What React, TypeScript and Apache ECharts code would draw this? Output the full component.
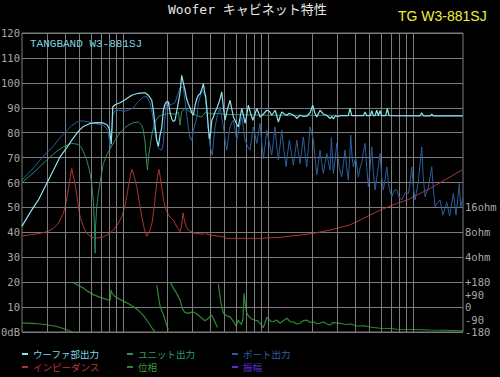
import React, { useEffect, useRef } from 'react';
import * as echarts from 'echarts';

// Frequencies (Hz) of the vertical grid lines and the labelled ones
const GRID_FREQS = [30, 40, 50, 60, 70, 80, 90, 100, 200, 300, 400, 500, 600, 700, 800, 900, 1000, 2000, 3000, 4000, 5000, 6000, 7000, 8000, 9000, 10000];
const FREQ_LABELS: [number, string][] = [[20, '20Hz'], [50, '50'], [100, '100'], [500, '500'], [1000, '1K'], [5000, '5K'], [10000, '10K'], [20000, '20K']];
// Right-hand scale labels (chart unit -> text)
const RIGHT_LABELS: Record<number, string> = { 50: '16ohm', 40: '8ohm', 30: '4ohm', 20: '+180', 15: '+90', 10: '0', 5: '-90', 0: '-180' };

const LEGEND_NAMES = ['ウーファ部出力', 'ユニット出力', 'ポート出力', 'インピーダンス', '位相', '振幅'];

// [Hz, dB]
const WOOFER_OUT: [number, number][] = [[20,42.5],[23.3,48.9],[25.9,52.9],[29.6,59.6],[33,65],[36.6,70.3],[40.7,74],[44.1,77],[48.9,80.5],[53,82.5],[58.9,83.7],[65.5,84],[72.8,83.9],[77.6,83],[80.1,81.5],[81.5,78],[82.5,75.5],[83.6,83],[84.5,90.3],[87.7,91.2],[94.9,92],[102.7,93.2],[114.3,95],[126.9,95.8],[137.4,96],[141,96],[148.8,95],[157,93],[161,89],[166,82],[170,77],[174.4,74.5],[179,79],[184,82],[188.7,89],[193.9,91.5],[199,92.5],[204.4,92.3],[210,88],[215.7,85.5],[221,84.5],[227.3,85],[236,90],[246,96],[252.7,103],[259.2,100],[266.3,97],[273.6,93.5],[280.7,91.5],[288.4,90],[296.3,88],[304,87],[312.3,91],[320.8,93.5],[329,95],[338,95.5],[350.6,98],[356.2,99.7],[362,97],[370,94.3],[376,90.3],[385.7,82],[392,77.5],[400,80],[407.2,85],[417.7,86.3],[429,88.3],[445,90.3],[464.5,93.5],[477.2,96.4],[490,90],[502.9,85],[520,89],[544.4,93],[574,86.3],[605,83.5],[621,82.3],[638,86],[655.5,89.7],[672,87],[690.6,83.7],[709.5,87],[727.8,91],[752,88],[780.5,85],[805,87],[832,89.7],[855,88],[876.5,86.3],[925,87.5],[975,89],[1020,88.5],[1055,87],[1085,88],[1112,89],[1140,87],[1172,84.3],[1205,86.5],[1237,88.3],[1290,87.5],[1340,87],[1395,87.8],[1450,87.4],[1510,86.8],[1570,85.7],[1654,87],[1745,86.5],[1840,86.6],[1939,88],[2024,91],[2090,88],[2157,86.3],[2273,89],[2395,87.5],[2528,87],[2663,85.7],[2750,86.5],[2807,85.5],[2900,86.8],[3000,86.4],[3122,86.8],[3560,86.8],[3660,89.7],[3760,86.8],[4520,86.8],[4645,88.3],[4780,86.8],[5050,86.8],[5166,88.8],[5300,86.8],[5444,86.8],[5593,89],[5740,86.8],[5894,88.8],[6050,86.8],[6450,86.8],[6617,89.7],[6800,86.8],[11100,86.7],[11427,88],[11750,86.7],[13050,86.7],[13399,87.4],[13750,86.7],[21900,86.7]];

const UNIT_OUT: [number, number][] = [[20,60],[24.6,64.5],[29.6,69],[34.7,72.5],[38.6,74.3],[44,75.7],[48.9,75.3],[52,73.5],[55.9,69],[58.9,64],[60.5,59.6],[62.2,52],[63.3,42],[63.8,31.6],[64.3,42],[65.5,50],[67.2,55.6],[70,62],[72.8,67.6],[76.8,71],[81,73.5],[87.7,77],[94.9,80],[102.7,82],[108.3,83],[117.2,84],[126.9,84.3],[133.9,83],[137.4,81],[141,76.3],[144,70],[146.5,65],[149,70],[152.8,74.3],[158,80],[165.4,84.3],[175,86.5],[184,87],[204,87.7],[227,87.4],[240,88.2],[246,83],[252,88.5],[266,89.7],[288,88.3],[321,86.8],[347,86.3],[370,88.3],[400,87.5],[464,87.7],[500,87.3],[1000,87],[5000,86.9],[21900,86.8]];

const PORT_OUT: [number, number][] = [[20,61],[22,63.5],[24.6,66.5],[26.6,69],[29.6,72],[32.9,74.5],[36.6,78],[40.7,80.8],[44,82.8],[48.9,84.6],[53,84.7],[58.9,84.2],[65.5,83.5],[72.8,83],[76.8,81.5],[78.8,80.3],[80.1,77],[81,74.5],[82,74],[83.2,80],[84.5,87],[87.7,88.8],[94.9,89],[100,88.5],[108.3,89],[117.2,90],[126.9,92.5],[137.4,94.3],[145,94.5],[152.8,92],[157,89],[161,85],[165.4,80],[170,76.5],[174,74],[177.2,73.5],[184,73],[189,76],[192,83.7],[199,92.3],[205,92.5],[210,91],[218,91.5],[227,92],[236,95],[246,98],[259,98.4],[266,93],[274,86.5],[281,82],[288,77.6],[296,77],[304,81],[321,86],[329,91.7],[340,95],[351,97],[366,95],[376,88],[386,81],[396,75],[407,71.7],[411,71],[420,77],[429,82.3],[445,87],[464.5,90.3],[477,86],[490,82.3],[503,77],[517,73],[530,78],[544,82.3],[559,84],[574,85],[590,81],[605,77],[630,82],[655,86.3],[672,82],[691,77],[720,74.5],[748,73],[768,78],[788,82.3],[810,79],[832,75.7],[855,80],[876,83.7],[900,76],[924,69.6],[950,75],[975,81],[1015,76],[1055,71],[1085,77],[1112,82.3],[1140,75],[1172,69],[1205,75],[1237,81],[1280,73],[1325,66.3],[1360,72],[1396,77],[1440,72],[1487,67],[1530,72],[1570,77],[1610,72],[1654,67.6],[1700,73],[1743,78.3],[1790,72],[1840,66.3],[1890,74],[1939,82.3],[1990,80],[2043,77],[2100,70],[2157,63],[2215,68],[2273,73],[2330,68],[2396,63.6],[2460,68],[2528,71.7],[2600,68],[2663,65],[2720,78],[2807,63.6],[2900,70],[2962,75.7],[3080,66],[3208,62.3],[3300,68],[3380,73],[3470,66],[3562,61],[3640,70],[3700,79],[3780,70],[3856,66.3],[4000,70],[4176,62.3],[4300,66],[4408,68],[4520,72],[4645,75.7],[4770,66],[4895,58.3],[5030,66],[5166,74.3],[5300,64],[5445,57],[5660,64],[5894,71.7],[6050,62],[6210,57],[6380,61],[6555,66.3],[6800,58],[7096,54.3],[7400,57],[7683,57],[8000,54],[8318,53],[8800,56],[9238,55.6],[9500,60],[9750,66.3],[10000,58],[10273,53],[10800,60],[11427,74.3],[11700,62],[12042,54.3],[12700,58],[13399,66.3],[13750,57],[14121,50.2],[14700,52],[15280,53],[16000,47],[16997,52],[17800,46.5],[18875,55.6],[19700,47],[20763,59.6],[21200,50],[21900,54]];

// impedance, in chart units (4ohm = 30, 8ohm = 40, 16ohm = 50)
const IMPEDANCE: [number, number][] = [[20,38.5],[26.6,39.6],[30,40.3],[32.9,41.6],[35.5,43.5],[38.6,47.6],[40.5,52.5],[41.7,57],[43,62],[44.1,65.6],[45.2,62.5],[46.4,59.6],[48.5,52],[50.3,46.2],[53,42.3],[55.9,39.6],[60,38.2],[63.8,37.6],[72.8,38.2],[80,39.5],[85.3,40.9],[92,43.5],[97.5,46.2],[103,51],[108.3,58.3],[112,63],[115,65.3],[118,63],[123.7,58.3],[129,52],[134,46.2],[140,41],[145,38.3],[152,40.5],[158,44],[163,50],[168,57],[172,62.5],[176,65.3],[180,62],[185,57],[190,52.5],[197,49],[207,46.5],[221,44.9],[235,42],[246,40.3],[252,42.5],[258,47.8],[262,45.5],[270,42.5],[282,40.8],[304,39.8],[340,39.3],[356,39.2],[364,40],[372,39.4],[396,38.9],[490,38.2],[517,37.6],[876,37.6],[1204,38],[1654,38.9],[2043,39.6],[2664,40.9],[3660,43],[4523,45.6],[5894,48.9],[7683,51.6],[9004,52.9],[13041,57.6],[17000,61.5],[21900,65.2]];

// phase, in chart units (-180 = 0, 0 = 10, +180 = 20), wrapped segments
const PHASE_SEGMENTS: [number, number][][] = [
  [[20,3.7],[25,3.4],[29.6,2.9],[34.7,2.2],[39,1.3],[42,0.6],[44.5,0.1]],
  [[45.2,19.8],[49,18.7],[53,17.6],[57,16.3],[62,15],[70,13.8],[78.8,12.9],[81.2,12.8],[82.2,16.8],[84,15.3],[87.7,14.2],[95,13],[105,11.8],[117,10.2],[128,8.5],[137,6.8],[145,4.8],[152,3],[158,1.5],[165,0.2]],
  [[170,18.8],[175,14],[179,10.5],[184,8.5],[189,7],[197,3.5],[204,0.8]],
  [[211,19.9],[222,17.5],[233,15.5],[246,12.8],[255,9.5],[264,8],[281,7.5],[300,8.1],[321,7.3],[340,6],[356,5],[366,4.5],[386,5.5],[407,6.8],[425,4.5],[445,1.8]],
  [[452,19.3],[470,12],[490,7.5],[515,6.5],[545,6.1],[570,4.5],[600,2.3],[620,4.8],[650,3],[668,5],[680,15.5],[690,12],[710,7.5],[740,6],[770,5.2],[800,4.8],[840,4.6],[876,3.5],[924,1.8],[975,5.8],[1000,5.2],[1040,4.3],[1083,4.1],[1140,4.8],[1204,3.5],[1270,4.5],[1340,5.5],[1410,4.2],[1487,4.1],[1570,3.2],[1654,3.5],[1750,4.6],[1840,4.8],[1940,3.8],[2043,4.1],[2150,3.3],[2273,3.5],[2400,4],[2528,3.2],[2664,2.8],[2800,3.8],[3122,3.5],[3400,3],[3700,3.2],[4072,2.4],[4600,2.5],[5000,2],[5894,1.5],[7000,1.4],[7683,1.1],[10000,1],[13041,0.8],[16000,0.7],[21900,0.5]],
];

const AMPLITUDE: [number, number][] = [];

const MONO = '"DejaVu Sans Mono", "Noto Sans CJK JP", monospace';
const JP = '"Noto Sans CJK JP", sans-serif';
const GRID_COLOR = '#7c7c7c';
const LABEL_COLOR = '#a8a8a8';

const C_WOOFER = '#8fe2ee';
const C_UNIT = '#2e8e62';
const C_PORT = '#2a5f9c';
const C_IMP = '#b03434';
const C_PHASE = '#2b8a2b';
const C_AMP = '#5b2fd0';

function line(name: string, data: [number, number][], color: string, z: number, width = 1) {
  return {
    type: 'line', name, data, showSymbol: false, symbol: 'none', silent: true, clip: true, z,
    lineStyle: { color, width }, itemStyle: { color }, emphasis: { disabled: true },
  };
}

function legendBox(name: string, color: string, left: number, top: number) {
  return {
    data: [name], left, top, padding: 0, icon: 'rect', itemWidth: 6, itemHeight: 2,
    textStyle: { color, fontSize: 9.5, lineHeight: 10, fontFamily: JP },
  };
}

function buildOption() {
  const gridMarks = GRID_FREQS.map((f) => ({ xAxis: f }));
  const labelMarks = FREQ_LABELS.map(([f, t]) => ({
    xAxis: f,
    lineStyle: { opacity: 0 },
    label: { show: true, position: 'start', formatter: t, distance: 5.5, color: LABEL_COLOR, fontSize: 10.5, lineHeight: 9, fontFamily: MONO },
  }));

  return {
    animation: false,
    backgroundColor: '#000000',
    title: [
      { text: 'Woofer キャビネット特性', left: 168, top: 3, padding: 0, textStyle: { color: '#e6e6e6', fontSize: 13, fontWeight: 'normal', fontFamily: MONO } },
      { text: 'TG W3-881SJ', left: 398, top: 9, padding: 0, textStyle: { color: '#f0f03a', fontSize: 14, fontWeight: 'normal', fontFamily: '"Liberation Sans", Arial, sans-serif' } },
      { text: 'TANGBAND W3-881SJ', left: 30, top: 38, padding: 0, textStyle: { color: '#7fd3e2', fontSize: 11, fontWeight: 'normal', fontFamily: '"Liberation Mono", monospace' } },
    ],
    legend: [
      legendBox(LEGEND_NAMES[0], '#7ed6e4', 22, 349),
      legendBox(LEGEND_NAMES[1], '#2e9a6a', 127, 349),
      legendBox(LEGEND_NAMES[2], '#2a64a0', 232, 349),
      legendBox(LEGEND_NAMES[3], '#c23434', 22, 362),
      legendBox(LEGEND_NAMES[4], '#3a9a3a', 127, 362),
      legendBox(LEGEND_NAMES[5], '#5a2ed0', 232, 362),
    ],
    grid: { left: 22, right: 37, top: 33, bottom: 45, show: true, borderColor: GRID_COLOR, borderWidth: 1, containLabel: false, outerBoundsMode: 'none' },
    xAxis: {
      type: 'log', logBase: 10, min: 20, max: 22000,
      axisLine: { show: false }, axisTick: { show: false }, axisLabel: { show: false }, splitLine: { show: false },
    },
    yAxis: [
      {
        type: 'value', min: 0, max: 120, interval: 10, position: 'left',
        axisLine: { show: false }, axisTick: { show: false },
        axisLabel: { margin: 2, color: LABEL_COLOR, fontSize: 10.5, lineHeight: 9, fontFamily: MONO, formatter: (v: number) => (v === 0 ? '0dB' : String(v)) },
        splitLine: { show: true, lineStyle: { color: GRID_COLOR, width: 1 } },
      },
      {
        type: 'value', min: 0, max: 120, interval: 5, position: 'right',
        axisLine: { show: false }, axisTick: { show: false }, splitLine: { show: false },
        axisLabel: { margin: 2, color: LABEL_COLOR, fontSize: 10.5, lineHeight: 9, fontFamily: MONO, formatter: (v: number) => RIGHT_LABELS[v] ?? '' },
      },
    ],
    series: [
      {
        type: 'line', name: '__grid', data: [], silent: true, z: 1,
        markLine: {
          silent: true, symbol: ['none', 'none'], animation: false,
          lineStyle: { type: 'solid', color: GRID_COLOR, width: 1 },
          label: { show: false },
          emphasis: { disabled: true },
          data: [...gridMarks, ...labelMarks],
        },
      },
      ...PHASE_SEGMENTS.map((seg) => line(LEGEND_NAMES[4], seg, C_PHASE, 3, 1.2)),
      line(LEGEND_NAMES[3], IMPEDANCE, C_IMP, 3),
      line(LEGEND_NAMES[5], AMPLITUDE, C_AMP, 3),
      line(LEGEND_NAMES[1], UNIT_OUT, C_UNIT, 4),
      line(LEGEND_NAMES[2], PORT_OUT, C_PORT, 5),
      line(LEGEND_NAMES[0], WOOFER_OUT, C_WOOFER, 6, 1.2),
    ],
  };
}

export default function App() {
  const ref = useRef<HTMLDivElement>(null);
  useEffect(() => {
    document.body.style.margin = '0';
    const chart = echarts.init(ref.current as HTMLDivElement, null, { renderer: 'svg' });
    chart.setOption(buildOption() as any);
    return () => chart.dispose();
  }, []);
  return <div ref={ref} style={{ width: 500, height: 377 }} />;
}
